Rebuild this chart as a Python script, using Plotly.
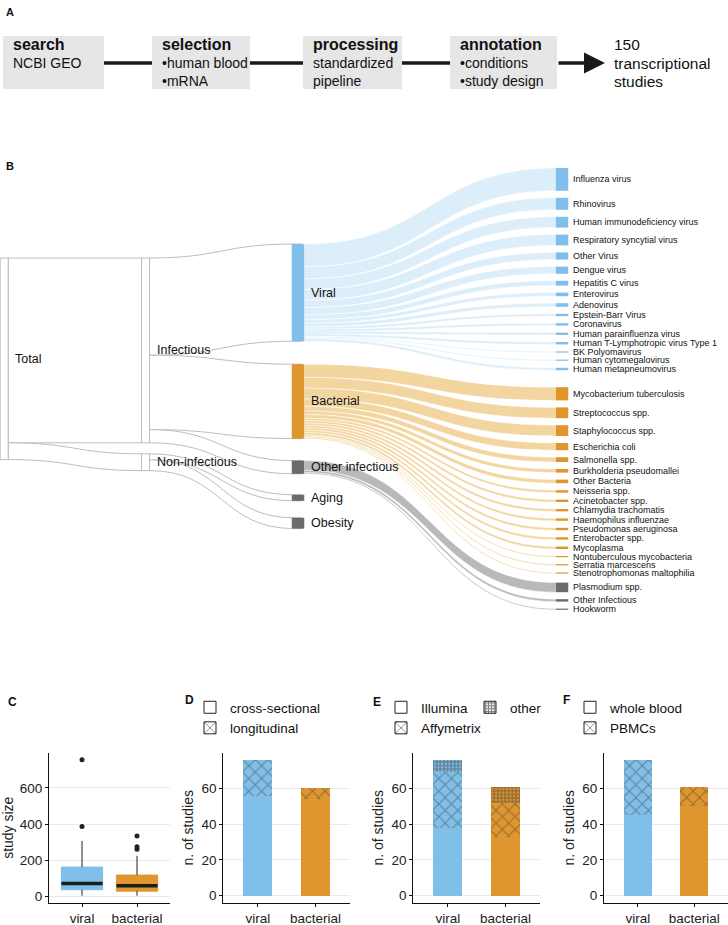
import plotly.graph_objects as go

W, H = 728, 925
def px_x(v): return v / W
def px_y(v): return 1 - v / H

FONT = "Liberation Sans, Arial, sans-serif"
BLUE, ORANGE, DARK = "#7fbfe9", "#e0962e", "#6b6b6b"
BLUE_LINK, ORANGE_LINK, GREY_LINK = "#dceef9", "#f2d59f", "#b9b9b9"
OUTLINE = "#bdbdbd"
CLEAR = "rgba(0,0,0,0)"

# ---------------- data ----------------
steps = ["search", "selection", "processing", "annotation"]
step_lines = [["NCBI GEO"], ["•human blood", "•mRNA"], ["standardized", "pipeline"],
              ["•conditions", "•study design"]]
result_lines = ["150", "transcriptional", "studies"]

hierarchy_nodes = ["Total", "Infectious", "Non-infectious"]
category_nodes = ["Viral", "Bacterial", "Other infectious"]
noninf_categories = ["Aging", "Obesity"]
noninf_counts = [5, 9]

viral_species = ["Influenza virus", "Rhinovirus", "Human immunodeficiency virus",
                 "Respiratory syncytial virus", "Other Virus", "Dengue virus", "Hepatitis C virus",
                 "Enterovirus", "Adenovirus", "Epstein-Barr Virus", "Coronavirus",
                 "Human parainfluenza virus", "Human T-Lymphotropic virus Type 1",
                 "BK Polyomavirus", "Human cytomegalovirus", "Human metapneumovirus"]
viral_counts = [19, 10, 9, 9, 6, 6, 4, 3, 3, 2, 2, 2, 2, 1, 1, 2]
bacterial_species = ["Mycobacterium tuberculosis", "Streptococcus spp.", "Staphylococcus spp.",
                     "Escherichia coli", "Salmonella spp.", "Burkholderia pseudomallei",
                     "Other Bacteria", "Neisseria spp.", "Acinetobacter spp.",
                     "Chlamydia trachomatis", "Haemophilus influenzae", "Pseudomonas aeruginosa",
                     "Enterobacter spp.", "Mycoplasma", "Nontuberculous mycobacteria",
                     "Serratia marcescens", "Stenotrophomonas maltophilia"]
bacterial_counts = [11, 9, 9, 6, 4, 3, 3, 2, 2, 2, 2, 2, 2, 2, 1, 1, 1]
other_species = ["Plasmodium spp.", "Other Infectious", "Hookworm"]
other_counts = [8, 2, 1]

groups = ["viral", "bacterial"]
box_q1 = [38, 30]
box_median = [73, 60]
box_q3 = [163, 119]
box_lower = [5, 5]
box_upper = [307, 225]
box_outliers = [[387, 755], [262, 275, 335]]

design_cross = [56, 54]
design_long = [20, 6]
platform_illumina = [38, 33]
platform_affy = [31, 19]
platform_other = [7, 9]
sample_wb = [45, 50]
sample_pbmc = [31, 11]

fig = go.Figure()
shapes, annotations = [], []

def ann(text, x, y, size, bold=False, xanchor="left", yanchor="middle", color="#111"):
    annotations.append(dict(text=f"<b>{text}</b>" if bold else text, x=px_x(x), y=px_y(y),
                            xref="paper", yref="paper", xanchor=xanchor, yanchor=yanchor,
                            showarrow=False, font=dict(size=size, color=color, family=FONT)))

# ---------------- Panel A ----------------
box_x = [(3, 104), (152, 250), (303, 402), (450, 557)]
BOX_TOP, BOX_BOT, MID = 36, 89, 63
for i, (x0, x1) in enumerate(box_x):
    shapes.append(dict(type="rect", xref="paper", yref="paper", x0=px_x(x0), x1=px_x(x1),
                       y0=px_y(BOX_BOT), y1=px_y(BOX_TOP), fillcolor="#e6e6e6",
                       line=dict(width=0), layer="below"))
    ann(steps[i], x0 + 8, 45, 16, bold=True)
    for j, t in enumerate(step_lines[i]):
        ann(t, x0 + 8, MID + 18.5 * j, 14)
    if i < len(box_x) - 1:
        shapes.append(dict(type="line", xref="paper", yref="paper", x0=px_x(x1),
                           x1=px_x(box_x[i + 1][0]), y0=px_y(MID), y1=px_y(MID),
                           line=dict(color="#1a1a1a", width=3.5)))
annotations.append(dict(text="", x=px_x(605), y=px_y(MID), xref="paper", yref="paper",
                        ax=-(605 - box_x[-1][1]), ay=0, showarrow=True, arrowhead=2,
                        arrowsize=1.2, arrowwidth=3.5, arrowcolor="#1a1a1a"))
for j, t in enumerate(result_lines):
    ann(t, 612, 45 + 18.5 * j, 15.5)

ann("A", 4, 12, 11, bold=True)
ann("B", 4, 166, 11, bold=True)
ann("C", 6, 702, 12, bold=True)
ann("D", 183, 700, 12, bold=True)
ann("E", 371, 702, 12, bold=True)
ann("F", 561, 700, 12, bold=True)

# ---------------- Panel B : Sankey (two overlaid traces sharing one scale) ----------------
KY = 1.2                      # px per study
S_TOP, S_BOT = 160, 620
HS = S_BOT - S_TOP
TH_WHITE, TH_COL = 8, 12.5
col_x = [4.2, 145.5, 298, 562]

leaf_groups = [viral_counts, bacterial_counts, other_counts]
leaf_names = viral_species + bacterial_species + other_species
leaf_vals = viral_counts + bacterial_counts + other_counts
cat_vals = [sum(viral_counts), sum(bacterial_counts), sum(other_counts)]
inf_total, non_total = sum(cat_vals), sum(noninf_counts)
total = inf_total + non_total

def stack(values, start, gaps):
    c, y = [], start
    for i, v in enumerate(values):
        h = v * KY
        c.append(y + h / 2)
        y += h + (gaps[i] if i < len(gaps) else 0)
    return c

y0 = stack([total], 98, [])
y1 = stack([inf_total, non_total], 98, [11])
y2 = stack(cat_vals + noninf_counts, 84, [23, 22, 21, 17])
leaf_gaps = []
for gi, g in enumerate(leaf_groups):
    for k in range(len(g)):
        if k < len(g) - 1:
            leaf_gaps.append(7)
        elif gi < len(leaf_groups) - 1:
            leaf_gaps.append(7 + [10, 2][gi])
y3 = stack(leaf_vals, 8, leaf_gaps)

def fx(v): return v / W
def fy(v): return v / HS

dom = dict(x=[0, 1], y=[px_y(S_BOT), px_y(S_TOP)])
cat_colors = [BLUE, ORANGE, DARK, DARK, DARK]

# trace 1: hierarchy (white flows with grey outline)
h_vals_col2 = cat_vals + noninf_counts
pad_h = (HS - KY * total) / (len(h_vals_col2) - 1)
h_src = [0, 0] + [1] * 3 + [2] * 2
h_tgt = [1, 2] + [3, 4, 5] + [6, 7]
h_val = [inf_total, non_total] + cat_vals + noninf_counts
fig.add_trace(go.Sankey(
    domain=dom, arrangement="fixed", orientation="h",
    node=dict(label=[""] * 8,
              x=[fx(col_x[0])] + [fx(col_x[1])] * 2 + [fx(col_x[2])] * 5,
              y=[fy(v) for v in y0 + y1 + y2],
              color=["white"] * 3 + cat_colors, pad=pad_h, thickness=TH_WHITE, align="left",
              line=dict(color=OUTLINE, width=[1, 1, 1, 0, 0, 0, 0, 0]), hoverinfo="none"),
    link=dict(source=h_src, target=h_tgt, value=h_val, color="white",
              line=dict(color=OUTLINE, width=1), hoverinfo="none"),
))

# trace 2: categories -> species, plus wide nodes for Aging / Obesity
# (each fed by a hidden node sitting right against it)
n_right = len(leaf_vals) + len(noninf_counts)
pad_l = (HS - KY * (sum(leaf_vals) + non_total)) / (n_right - 1)
n_hidden = len(noninf_counts)
l_src, l_tgt, l_val, l_col = [], [], [], []
base = 3 + n_hidden
for ci, (g, lc) in enumerate(zip(leaf_groups, [BLUE_LINK, ORANGE_LINK, GREY_LINK])):
    for k, v in enumerate(g):
        l_src.append(ci); l_tgt.append(base + k); l_val.append(v); l_col.append(lc)
    base += len(g)
for k, v in enumerate(noninf_counts):
    l_src.append(3 + k); l_tgt.append(base + k); l_val.append(v); l_col.append(CLEAR)
leaf_colors = ([BLUE] * len(viral_species) + [ORANGE] * len(bacterial_species) +
               [DARK] * len(other_species))
fig.add_trace(go.Sankey(
    domain=dom, arrangement="fixed", orientation="h",
    node=dict(label=[""] * (3 + n_hidden + n_right),
              x=[fx(col_x[2])] * 3 + [fx(col_x[2] - TH_COL)] * n_hidden
                + [fx(col_x[3])] * len(leaf_vals) + [fx(col_x[2])] * n_hidden,
              y=[fy(v) for v in y2[:3] + y2[3:] + y3 + y2[3:]],
              color=cat_colors[:3] + [CLEAR] * n_hidden + leaf_colors + [DARK] * n_hidden,
              pad=pad_l, thickness=TH_COL, align="left",
              line=dict(width=0), hoverinfo="none"),
    link=dict(source=l_src, target=l_tgt, value=l_val, color=l_col,
              line=dict(color="rgba(255,255,255,0.8)", width=0.6), hoverinfo="none"),
))

# node labels
mid_names = hierarchy_nodes + category_nodes + noninf_categories
mid_x = [col_x[0] + TH_WHITE / 2] + [col_x[1] + TH_WHITE / 2] * 2 + [col_x[2] + TH_COL / 2] * 5
for name, x, yc in zip(mid_names, mid_x, y0 + y1 + y2):
    ann(name, x + 5, S_TOP + yc, 12.5)
for name, yc in zip(leaf_names, y3):
    ann(name, col_x[3] + TH_COL / 2 + 3, S_TOP + yc, 9)

# ---------------- Panel C : box plot ----------------
for i, g in enumerate(groups):
    col = [BLUE, ORANGE][i]
    fig.add_trace(go.Box(x=[i], q1=[box_q1[i]], median=[box_median[i]], q3=[box_q3[i]],
                         lowerfence=[box_q1[i]], upperfence=[box_q3[i]], width=0.75,
                         fillcolor=col, line=dict(color=col, width=1), whiskerwidth=0,
                         boxpoints=False, showlegend=False, hoverinfo="skip",
                         xaxis="x", yaxis="y"))
    fig.add_trace(go.Scatter(x=[i, i, None, i, i],
                             y=[box_q3[i], box_upper[i], None, box_lower[i], box_q1[i]],
                             mode="lines", line=dict(color="#222", width=1),
                             showlegend=False, hoverinfo="skip", xaxis="x", yaxis="y"))
    fig.add_trace(go.Scatter(x=[i - 0.375, i + 0.375], y=[box_median[i]] * 2, mode="lines",
                             line=dict(color="#1c1c1c", width=3.5), showlegend=False,
                             hoverinfo="skip", xaxis="x", yaxis="y"))
    fig.add_trace(go.Scatter(x=[i] * len(box_outliers[i]), y=box_outliers[i], mode="markers",
                             marker=dict(color="#222", size=5), showlegend=False,
                             hoverinfo="skip", xaxis="x", yaxis="y"))

# ---------------- Panels D-F : stacked bars ----------------
XPAT = dict(shape="x", fgcolor="#000", size=9, solidity=0.22, fillmode="overlay")
GPAT = dict(shape="+", fgcolor="#000", size=3.6, solidity=0.65, fillmode="overlay")

def bars(vals, pattern, ax):
    m = dict(color=[BLUE, ORANGE], line=dict(width=0))
    if pattern:
        m["pattern"] = pattern
    fig.add_trace(go.Bar(x=groups, y=vals, width=0.5, marker=m, showlegend=False,
                         hoverinfo="skip", xaxis="x" + ax, yaxis="y" + ax))

def key(name, pattern, ax, legend):
    m = dict(color="white", line=dict(color="#222", width=1))
    if pattern:
        p = dict(pattern); p["bgcolor"] = "white"
        m["pattern"] = p
    fig.add_trace(go.Bar(x=[None], y=[None], name=name, marker=m, showlegend=True,
                         legend=legend, hoverinfo="skip", xaxis="x" + ax, yaxis="y" + ax))

bars(design_cross, None, "2"); bars(design_long, XPAT, "2")
key("cross-sectional", None, "2", "legend"); key("longitudinal", XPAT, "2", "legend")
bars(platform_illumina, None, "3"); bars(platform_affy, XPAT, "3"); bars(platform_other, GPAT, "3")
key("Illumina", None, "3", "legend2"); key("Affymetrix", XPAT, "3", "legend2")
key("other", GPAT, "3", "legend3")
bars(sample_wb, None, "4"); bars(sample_pbmc, XPAT, "4")
key("whole blood", None, "4", "legend4"); key("PBMCs", XPAT, "4", "legend4")

P_TOP, P_BOT = 753, 902.5
axis_common = dict(showline=True, linecolor="#111", linewidth=1.2, ticks="outside",
                   ticklen=3, tickcolor="#111", zeroline=False, fixedrange=True,
                   automargin=False, tickfont=dict(size=13.5, color="#222", family=FONT))
xdoms = {"": (49, 170), "2": (223.3, 350), "3": (413.3, 540), "4": (604, 728)}
lay = {}
for ax, (a, b) in xdoms.items():
    lay["xaxis" + ax] = dict(domain=[px_x(a), px_x(b)], anchor="y" + ax, range=[-0.6, 1.6],
                             showgrid=False, **axis_common)
    if ax == "":
        lay["xaxis"].update(tickvals=[0, 1], ticktext=groups)
    else:
        lay["xaxis" + ax].update(type="category")
    lay["yaxis" + ax] = dict(domain=[px_y(P_BOT), px_y(P_TOP)], anchor="x" + ax,
                             showgrid=True, gridcolor="#e9e9e9", gridwidth=1,
                             title=dict(text="n. of studies",
                                        font=dict(size=14, family=FONT, color="#222"),
                                        standoff=4),
                             range=[-3.8, 79.8], tickvals=[0, 20, 40, 60], **axis_common)
lay["yaxis"].update(range=[-32.5, 792.5], tickvals=[0, 200, 400, 600])
lay["yaxis"]["title"]["text"] = "study size"

leg = dict(bgcolor="rgba(0,0,0,0)", font=dict(size=13.5, color="#111", family=FONT),
           xanchor="left", yanchor="top", orientation="v", tracegroupgap=0, borderwidth=0,
           traceorder="normal")
fig.update_layout(
    width=W, height=H, margin=dict(l=0, r=0, t=0, b=0, autoexpand=False),
    paper_bgcolor="white", plot_bgcolor="white",
    font=dict(family=FONT, color="#111"),
    barmode="stack", bargap=0,
    shapes=shapes, annotations=annotations,
    legend=dict(leg, x=px_x(190), y=px_y(692)),
    legend2=dict(leg, x=px_x(381), y=px_y(692)),
    legend3=dict(leg, x=px_x(470), y=px_y(692)),
    legend4=dict(leg, x=px_x(570), y=px_y(692)),
    **lay,
)

fig.write_html("out.html", config={"displayModeBar": False},
               post_script="document.body.style.margin='0px';")
